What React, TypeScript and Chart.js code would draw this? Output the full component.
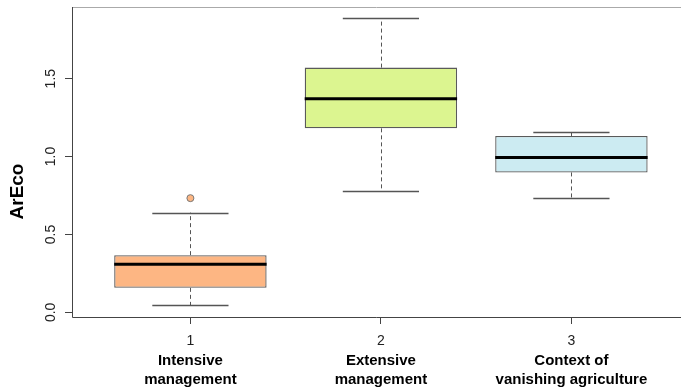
import React, { useEffect, useRef } from "react";
import { Chart, registerables } from "chart.js";

Chart.register(...registerables);

const positions = [1, 2, 3];
const tickLabels = ["1", "2", "3"];
const groupNames = [
  ["Intensive", "management"],
  ["Extensive", "management"],
  ["Context of", "vanishing agriculture"],
];
const whiskerLow = [0.047, 0.78, 0.733];
const q1 = [0.157, 1.181, 0.898];
const median = [0.309, 1.371, 0.994];
const q3 = [0.367, 1.571, 1.132];
const whiskerHigh = [0.64, 1.889, 1.158];
const outlierX = [1];
const outlierY = [0.733];
const fills = ["#FDB683", "#DCF590", "#CCEBF2"];
const yTicks = [0, 0.5, 1.0, 1.5];
const yTickLabels = ["0.0", "0.5", "1.0", "1.5"];

const FONT = "'Liberation Sans', Arial, sans-serif";

const boxPlugin = {
  id: "boxExtras",
  beforeDatasetsDraw(chart: any) {
    const { ctx } = chart;
    const xs = chart.scales.x;
    const ys = chart.scales.y;
    ctx.save();
    positions.forEach((p, i) => {
      const cx = Math.round(xs.getPixelForValue(p)) + 0.5;
      ctx.strokeStyle = "#555";
      ctx.lineWidth = 1;
      ctx.setLineDash([4, 3]);
      ctx.beginPath();
      ctx.moveTo(cx, ys.getPixelForValue(q3[i]));
      ctx.lineTo(cx, ys.getPixelForValue(whiskerHigh[i]));
      ctx.moveTo(cx, ys.getPixelForValue(q1[i]));
      ctx.lineTo(cx, ys.getPixelForValue(whiskerLow[i]));
      ctx.stroke();
      ctx.setLineDash([]);
      ctx.lineWidth = 1.3;
      ctx.beginPath();
      const l = xs.getPixelForValue(p - 0.2);
      const r = xs.getPixelForValue(p + 0.2);
      [whiskerHigh[i], whiskerLow[i]].forEach((v) => {
        const y = Math.round(ys.getPixelForValue(v)) + 0.5;
        ctx.moveTo(l, y);
        ctx.lineTo(r, y);
      });
      ctx.stroke();
    });
    ctx.restore();
  },
  afterDatasetsDraw(chart: any) {
    const { ctx, chartArea } = chart;
    const xs = chart.scales.x;
    const ys = chart.scales.y;
    ctx.save();
    positions.forEach((p, i) => {
      const l = xs.getPixelForValue(p - 0.4);
      const r = xs.getPixelForValue(p + 0.4);
      const y = ys.getPixelForValue(median[i]);
      ctx.strokeStyle = "#000";
      ctx.lineWidth = 3;
      ctx.beginPath();
      ctx.moveTo(l, y);
      ctx.lineTo(r, y);
      ctx.stroke();
    });
    const W = chart.width;
    ctx.lineWidth = 1;
    ctx.strokeStyle = "#aaa";
    ctx.beginPath();
    ctx.moveTo(chartArea.left, chartArea.top + 0.5);
    ctx.lineTo(W, chartArea.top + 0.5);
    ctx.stroke();
    ctx.strokeStyle = "#444";
    ctx.beginPath();
    ctx.moveTo(chartArea.left + 0.5, chartArea.top);
    ctx.lineTo(chartArea.left + 0.5, chartArea.bottom + 0.5);
    ctx.lineTo(W, chartArea.bottom + 0.5);
    ctx.stroke();
    ctx.fillStyle = "#222";
    ctx.font = `14px ${FONT}`;
    ctx.textAlign = "center";
    ctx.textBaseline = "middle";
    yTicks.forEach((v, i) => {
      const y = ys.getPixelForValue(v);
      ctx.save();
      ctx.translate(51, y);
      ctx.rotate(-Math.PI / 2);
      ctx.fillText(yTickLabels[i], 0, 0);
      ctx.restore();
    });
    ctx.save();
    ctx.font = `bold 19px ${FONT}`;
    ctx.fillStyle = "#000";
    ctx.translate(18, 191.5);
    ctx.rotate(-Math.PI / 2);
    ctx.fillText("ArEco", 0, 0);
    ctx.restore();
    positions.forEach((p, i) => {
      const x = xs.getPixelForValue(p);
      ctx.font = `14px ${FONT}`;
      ctx.fillStyle = "#222";
      ctx.fillText(tickLabels[i], x, 341);
      ctx.font = `bold 15px ${FONT}`;
      ctx.fillStyle = "#000";
      ctx.fillText(groupNames[i][0], x, 361);
      ctx.fillText(groupNames[i][1], x, 380);
    });
    ctx.restore();
  },
};

export default function App() {
  const ref = useRef<HTMLCanvasElement>(null);
  useEffect(() => {
    document.body.style.margin = "0";
    const chart = new Chart(ref.current as HTMLCanvasElement, {
      type: "bar",
      data: {
        datasets: [
          {
            type: "bar",
            data: positions.map((p, i) => ({ x: p, y: [q1[i], q3[i]] })) as any,
            backgroundColor: fills,
            borderColor: "#5a5a5a",
            borderWidth: 1.3,
            borderSkipped: false,
            barPercentage: 0.8,
            categoryPercentage: 1,
          } as any,
          {
            type: "scatter",
            data: outlierX.map((x, i) => ({ x, y: outlierY[i] })),
            backgroundColor: fills[0],
            borderColor: "#777",
            borderWidth: 1,
            pointRadius: 3.5,
          } as any,
        ],
      },
      options: {
        responsive: false,
        animation: false,
        layout: { padding: { top: 7, right: 0, left: 0, bottom: 0 } },
        plugins: { legend: { display: false }, tooltip: { enabled: false } },
        scales: {
          x: {
            type: "linear",
            min: 0.3785,
            max: 3.549,
            offset: false,
            afterFit: (s: any) => {
              s.height = 72;
            },
            afterBuildTicks: (s: any) => {
              s.ticks = positions.map((v) => ({ value: v }));
            },
            ticks: { display: false },
            border: { display: false },
            grid: {
              display: true,
              offset: false,
              drawOnChartArea: false,
              drawTicks: true,
              tickLength: 7,
              color: "#444",
            },
          },
          y: {
            type: "linear",
            min: -0.03,
            max: 1.96,
            afterFit: (s: any) => {
              s.width = 72;
            },
            afterBuildTicks: (s: any) => {
              s.ticks = yTicks.map((v) => ({ value: v }));
            },
            ticks: { display: false },
            border: { display: false },
            grid: {
              display: true,
              drawOnChartArea: false,
              drawTicks: true,
              tickLength: 7,
              color: "#444",
            },
          },
        },
      },
      plugins: [boxPlugin],
    });
    return () => chart.destroy();
  }, []);
  return <canvas ref={ref} width={681} height={389} style={{ display: "block" }} />;
}
